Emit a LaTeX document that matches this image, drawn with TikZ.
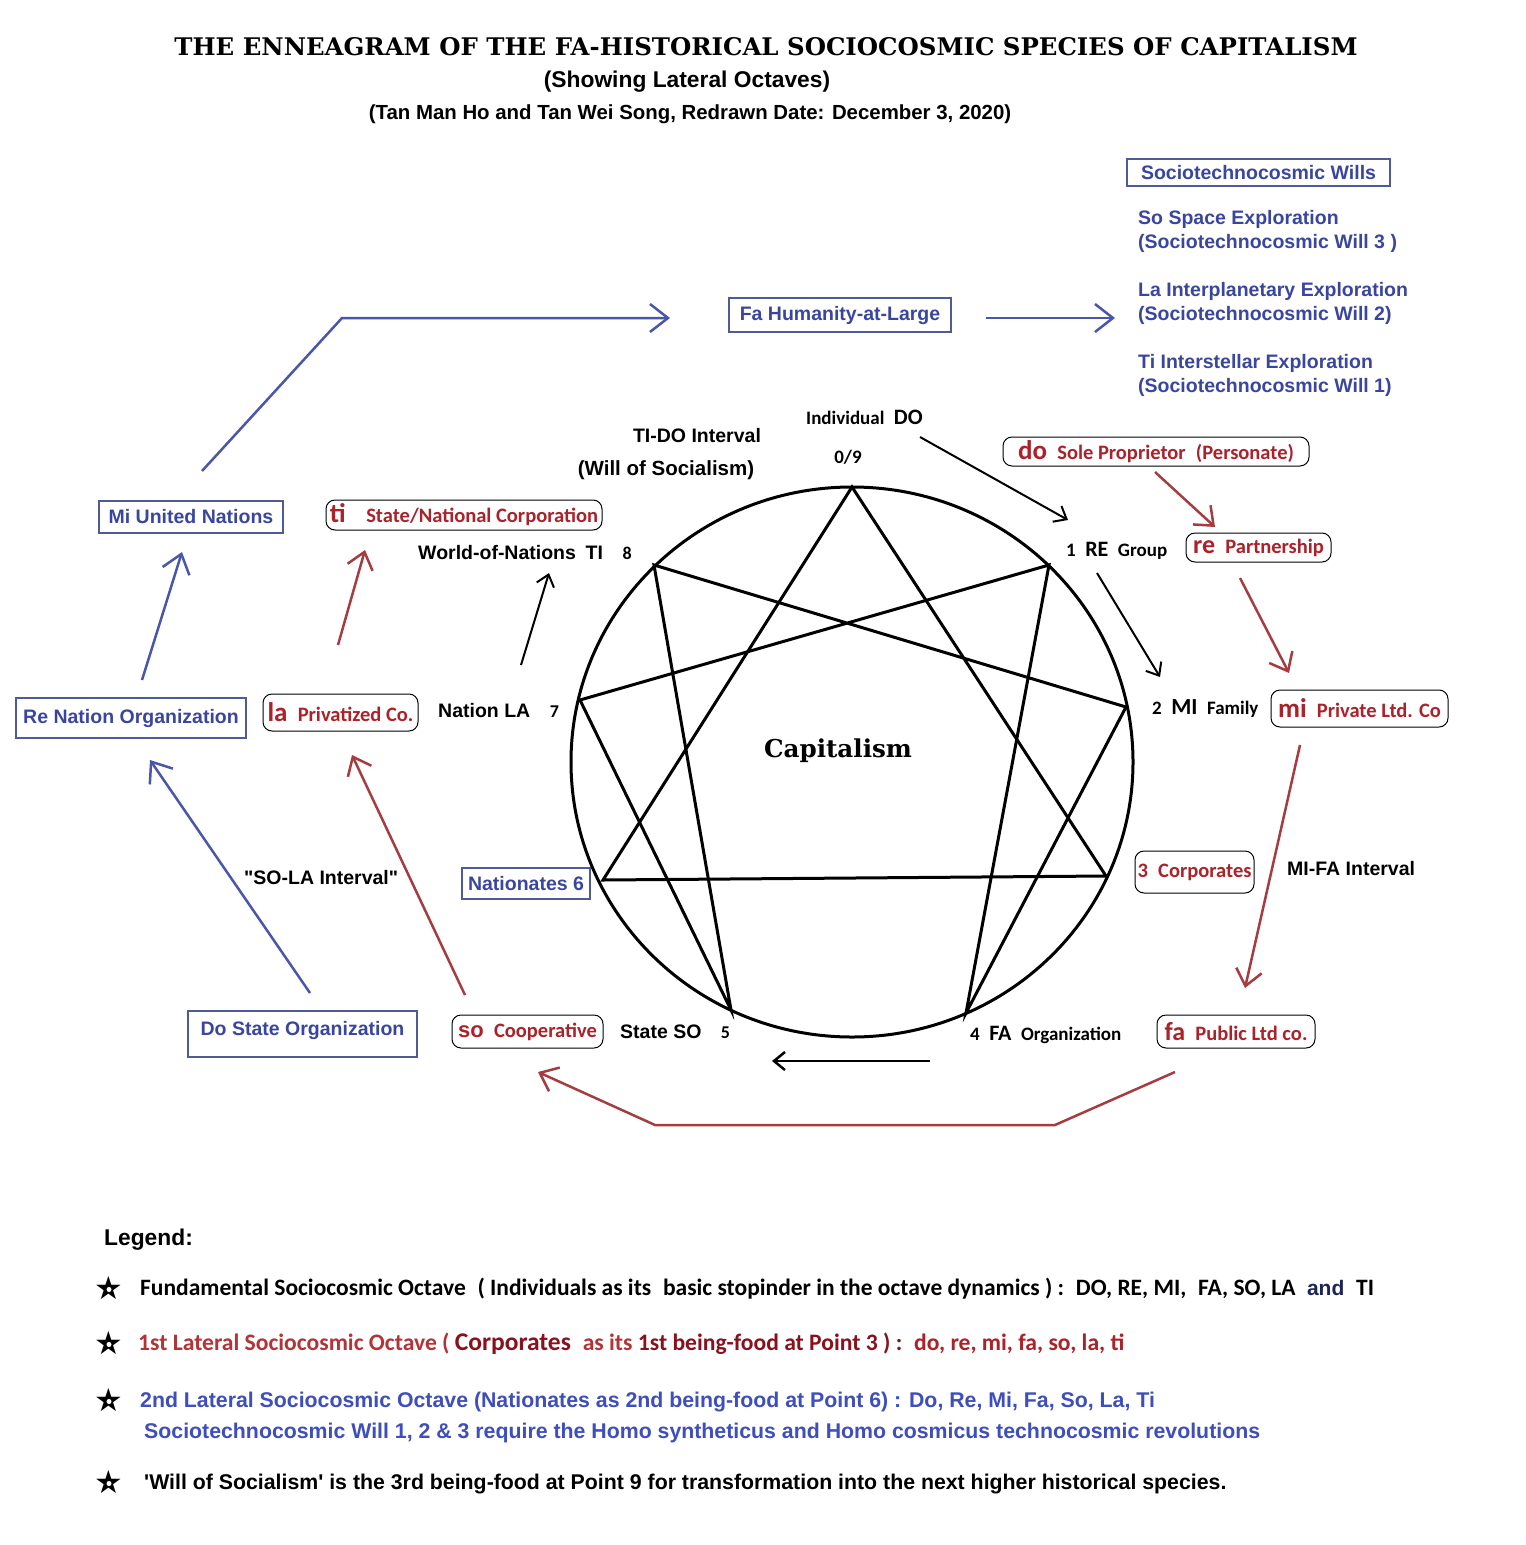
\documentclass[tikz,border=0pt]{standalone}
\usepackage{fontspec}
\usepackage{graphicx}
\setmainfont{Liberation Sans}
\newfontfamily\carl{Carlito}
\newfontfamily\dserif{DejaVu Serif}
\newfontfamily\dsans{DejaVu Sans}
\usetikzlibrary{arrows.meta}
\definecolor{nblue}{RGB}{58,70,158}
\definecolor{lblue}{RGB}{62,78,186}
\definecolor{bborder}{RGB}{80,90,150}
\definecolor{nred}{RGB}{170,34,42}
\definecolor{lred}{RGB}{178,52,56}
\definecolor{dred}{RGB}{135,18,30}
\definecolor{ared}{RGB}{165,60,64}
\definecolor{ablue}{RGB}{74,86,170}
\definecolor{andcol}{RGB}{30,35,90}
\newcommand{\fsz}[1]{\fontsize{#1bp}{#1bp}\selectfont}
\begin{document}
\begin{tikzpicture}[x=1bp,y=-1bp,
  bluebox/.style={draw=bborder, line width=1.2bp, text=nblue, font=\bfseries\fsz{19.5}, inner sep=0pt},
  redbox/.style={draw=black, line width=1bp, rounded corners=9bp, text=nred, font=\carl\bfseries\fsz{20.5}, inner sep=0pt},
  lab/.style={font=\bfseries\fsz{19.5}, inner sep=0pt},
  clab/.style={font=\carl\bfseries\fsz{19}, inner sep=0pt},
  bltxt/.style={font=\bfseries\fsz{19.5}, text=nblue, inner sep=0pt, anchor=base west},
  legtxt/.style={inner sep=0pt, anchor=base west},
  starsym/.style={font=\dsans\fsz{32}, inner sep=0pt},
  stardot/.style={circle, fill=white, inner sep=0pt, minimum size=5bp},
  barrow/.style={draw=ablue, line width=2.5bp, -{Straight Barb[length=18bp,width=28bp]}},
  rarrow/.style={draw=ared, line width=2.5bp, -{Straight Barb[length=16bp,width=26bp]}},
  karrow/.style={draw=black, line width=2bp, -{Straight Barb[length=11bp,width=18bp]}},
  ennea/.style={line width=3bp, line join=miter}
]
\useasboundingbox (0,0) rectangle (1526,1545);
\fill[white] (0,0) rectangle (1526,1545);

% ---------- titles
\node[inner sep=0pt, anchor=base] (title) at (766,56)
  {\resizebox{1183bp}{18bp}{\dserif\bfseries THE ENNEAGRAM OF THE FA-HISTORICAL SOCIOCOSMIC SPECIES OF CAPITALISM}};
\node[inner sep=0pt, anchor=base, font=\bfseries\fsz{22.8}] (sub1) at (687,88) {(Showing Lateral Octaves)};
\node[inner sep=0pt, anchor=base, font=\bfseries\fsz{20.4}] (sub2) at (690,120) {(Tan Man Ho and Tan Wei Song, Redrawn Date: December 3, 2020)};

% ---------- top right wills
\node[bluebox, minimum width=263bp, minimum height=27bp] (wills) at (1258.5,172.5) {Sociotechnocosmic Wills};
\node[bltxt] (w3a) at (1138,224) {So Space Exploration};
\node[bltxt] (w3b) at (1138,248) {(Sociotechnocosmic Will 3 )};
\node[bltxt] (w2a) at (1138,296) {La Interplanetary Exploration};
\node[bltxt] (w2b) at (1138,320) {(Sociotechnocosmic Will 2)};
\node[bltxt] (w1a) at (1138,368) {Ti Interstellar Exploration};
\node[bltxt] (w1b) at (1138,392) {(Sociotechnocosmic Will 1)};

% ---------- blue boxes
\node[bluebox, minimum width=222bp, minimum height=34bp] (fa) at (840,315) {Fa Humanity-at-Large};
\node[bluebox, minimum width=184bp, minimum height=32bp] (mi) at (191,517) {Mi United Nations};
\node[bluebox, minimum width=230bp, minimum height=40bp] (re) at (131,718) {Re Nation Organization};
\node[bluebox, minimum width=128bp, minimum height=31bp] (nat) at (526,883.5) {Nationates 6};
\node[bluebox, minimum width=229bp, minimum height=46bp, text depth=12bp] (do) at (302.5,1034) {Do State Organization};

% ---------- red rounded boxes
\node[redbox, minimum width=306bp, minimum height=29bp] (rdo) at (1156,451.5) {{\fsz{27}do}\enspace Sole Proprietor\enspace(Personate)};
\node[redbox, minimum width=145bp, minimum height=29bp] (rre) at (1258.5,547.5) {{\fsz{26}re}\enspace Partnership};
\node[redbox, minimum width=177bp, minimum height=37bp] (rmi) at (1359.5,708.5) {{\fsz{27}mi}\enspace Private Ltd. Co};
\node[redbox, minimum width=119bp, minimum height=42bp] (rcorp) at (1194.5,872) {3\enspace Corporates};
\node[redbox, minimum width=158bp, minimum height=33bp] (rfa) at (1236,1031.5) {{\fsz{26}fa}\enspace Public Ltd co.};
\node[redbox, minimum width=151bp, minimum height=33bp] (rso) at (527.5,1031.5) {{\normalfont\bfseries\fsz{22}so}\enspace Cooperative};
\node[redbox, minimum width=155bp, minimum height=37bp] (rla) at (340.5,712.5) {{\fsz{27}la}\enspace Privatized Co.};
\node[redbox, minimum width=276bp, minimum height=30bp] (rti) at (464,515) {{\fsz{27}ti}\quad State/National Corporation};

% ---------- enneagram
\coordinate (ctr) at (852,762);
\coordinate (p9) at (852,487);
\coordinate (p1) at (1049,565);
\coordinate (p2) at (1126,707);
\coordinate (p3) at (1106,876);
\coordinate (p4) at (966,1013);
\coordinate (p5) at (731,1010);
\coordinate (p6) at (603,880);
\coordinate (p7) at (580,700);
\coordinate (p8) at (654,565);
\draw[ennea] (ctr) ellipse [x radius=281bp, y radius=275bp];
\draw[ennea] (p9) -- (p3) -- (p6) -- cycle;
\draw[ennea] (p1) -- (p4) -- (p2) -- (p8) -- (p5) -- (p7) -- cycle;
\node[inner sep=0pt, anchor=base, font=\dserif\bfseries\fsz{24.6}] (cap) at (838,757) {Capitalism};

% ---------- point labels
\node[clab, anchor=base west] (lind) at (806,424) {Individual\enspace{\fsz{22}DO}};
\node[clab, anchor=base] (l09) at (848,463) {0/9};
\node[lab, anchor=base] (ltido) at (697,442) {TI-DO Interval};
\node[lab, anchor=base, font=\bfseries\fsz{20.5}] (lwill) at (666,475) {(Will of Socialism)};
\node[lab, anchor=base west] (l8) at (418,559) {World-of-Nations\enspace TI\quad{\carl\fsz{18}8}};
\node[lab, anchor=base west] (l7) at (438,717) {Nation LA\quad{\carl\fsz{18}7}};
\node[lab, anchor=base west] (l5) at (620,1038) {State SO\quad{\carl\fsz{18}5}};
\node[clab, anchor=base west] (l4) at (970,1040) {4\enspace{\fsz{22}FA}\enspace Organization};
\node[clab, anchor=base west] (l1) at (1066,556) {1\enspace{\fsz{22}RE}\enspace Group};
\node[clab, anchor=base west] (l2) at (1152,714) {2\enspace{\fsz{23}MI}\enspace Family};
\node[lab, anchor=base west] (lmifa) at (1287,875) {MI-FA Interval};
\node[lab, anchor=base west] (lsola) at (244,884) {\textquotedbl SO-LA Interval\textquotedbl};

% ---------- arrow end coordinates
\coordinate (ba1s) at (202,471); \coordinate (ba1m) at (342,318); \coordinate (ba1e) at (670,318);
\coordinate (ba2s) at (986,318); \coordinate (ba2e) at (1115,318);
\coordinate (ba3s) at (142,680); \coordinate (ba3e) at (182,552);
\coordinate (ba4s) at (310,993); \coordinate (ba4e) at (150,760);
\coordinate (ra1s) at (1155,472); \coordinate (ra1e) at (1215,527);
\coordinate (ra2s) at (1240,578); \coordinate (ra2e) at (1289,673);
\coordinate (ra3s) at (1300,745); \coordinate (ra3e) at (1245,988);
\coordinate (ra4s) at (1175,1072); \coordinate (ra4a) at (1055,1125); \coordinate (ra4b) at (655,1125); \coordinate (ra4e) at (538,1072);
\coordinate (ra5s) at (465,995); \coordinate (ra5e) at (352,755);
\coordinate (ra6s) at (338,645); \coordinate (ra6e) at (365,550);
\coordinate (ka1s) at (920,437); \coordinate (ka1e) at (1068,520);
\coordinate (ka2s) at (1097,573); \coordinate (ka2e) at (1160,677);
\coordinate (ka3s) at (930,1061); \coordinate (ka3e) at (772,1061);
\coordinate (ka4s) at (521,665); \coordinate (ka4e) at (549,573);

% ---------- arrows
\draw[barrow] (ba1s) -- (ba1m) -- (ba1e);
\draw[barrow] (ba2s) -- (ba2e);
\draw[barrow] (ba3s) -- (ba3e);
\draw[barrow] (ba4s) -- (ba4e);
\draw[rarrow] (ra1s) -- (ra1e);
\draw[rarrow] (ra2s) -- (ra2e);
\draw[rarrow] (ra3s) -- (ra3e);
\draw[rarrow] (ra4s) -- (ra4a) -- (ra4b) -- (ra4e);
\draw[rarrow] (ra5s) -- (ra5e);
\draw[rarrow] (ra6s) -- (ra6e);
\draw[karrow] (ka1s) -- (ka1e);
\draw[karrow] (ka2s) -- (ka2e);
\draw[karrow, line width=2.5bp] (ka3s) -- (ka3e);
\draw[karrow] (ka4s) -- (ka4e);

% ---------- legend
\node[legtxt, font=\bfseries\fsz{22.8}] (leg) at (104,1245) {Legend:};
\foreach \i/\yy in {1/1288,2/1343,3/1400,4/1482}{
  \node[starsym] (s\i) at (109,\yy) {★};
  \node[stardot] (sd\i) at (109,\yy+1.5) {};
}
\node[legtxt, font=\carl\bfseries\fsz{23.5}] (leg1) at (140,1295)
  {Fundamental Sociocosmic Octave\enspace ( Individuals as its\enspace basic stopinder in the octave dynamics ) :\enspace DO, RE, MI,\enspace FA, SO, LA\enspace {\normalfont\bfseries\fsz{21}\color{andcol}and}\enspace TI};
\node[legtxt, font=\carl\bfseries\fsz{23.6}] (leg2) at (138,1350)
  {{\color{lred}1st Lateral Sociocosmic Octave (}\ {\color{dred}\fsz{25.5}Corporates}\enspace{\color{lred}as its}\ {\color{dred}1st being-food at Point 3 ) :}\enspace{\color{nred}do, re, mi, fa, so, la, ti}};
\node[legtxt, font=\bfseries\fsz{21.3}, text=lblue] (leg3) at (140,1407)
  {2nd Lateral Sociocosmic Octave (Nationates as 2nd being-food at Point 6) : Do, Re, Mi, Fa, So, La, Ti};
\node[legtxt, font=\bfseries\fsz{21.3}, text=lblue] (leg3b) at (144,1438)
  {Sociotechnocosmic Will 1, 2 \& 3 require the Homo syntheticus and Homo cosmicus technocosmic revolutions};
\node[legtxt, font=\bfseries\fsz{21.3}] (leg4) at (144,1489)
  {\textquotesingle Will of Socialism\textquotesingle\ is the 3rd being-food at Point 9 for transformation into the next higher historical species.};
\end{tikzpicture}
\end{document}
